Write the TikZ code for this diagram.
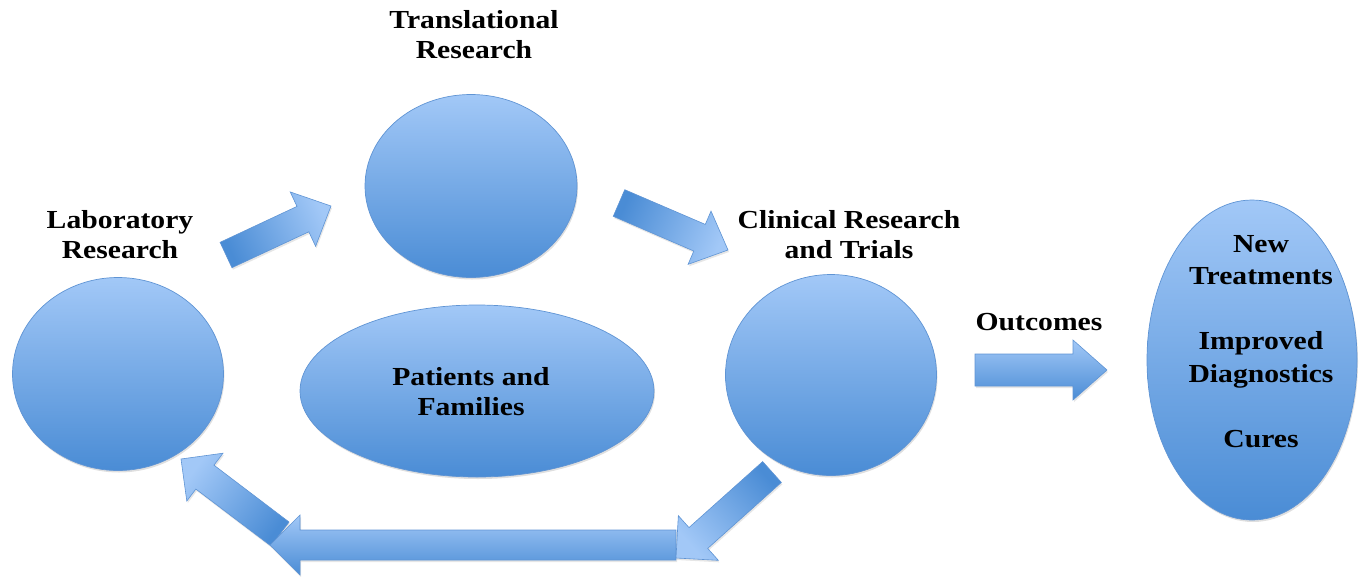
\documentclass[tikz,border=0pt]{standalone}
\usepackage{fontspec}
\setmainfont{Liberation Serif}[FakeStretch=1.14]
\usetikzlibrary{shapes.geometric,calc,shadows}
\definecolor{lightb}{RGB}{162,200,247}
\definecolor{darkb}{RGB}{74,140,213}
\definecolor{edgeb}{RGB}{95,148,212}
\tikzset{
  bubble/.style={ellipse, inner sep=0pt, draw=edgeb, line width=0.7pt,
    top color=lightb, bottom color=darkb,
    drop shadow={opacity=0.25, shadow xshift=1pt, shadow yshift=-2pt}},
  arrowbody/.style={draw=edgeb, line width=0.6pt, top color=lightb, bottom color=darkb,
    drop shadow={opacity=0.2, shadow xshift=1pt, shadow yshift=-2pt}},
  lbl/.style={align=center, inner sep=0pt, anchor=base,
    font=\fontsize{26}{30}\selectfont\bfseries},
}
\newcommand\blockarrow[6]{%
  \coordinate (hb) at ($(#2)!#5!(#1)$);
  \path[arrowbody, shading angle=#6]
    ($(#1)!#3!90:(#2)$) -- ($(hb)!#3!90:(#2)$) -- ($(hb)!#4!90:(#2)$) -- (#2)
    -- ($(hb)!#4!-90:(#2)$) -- ($(hb)!#3!-90:(#2)$) -- ($(#1)!#3!-90:(#2)$) -- cycle;
}
\begin{document}
\begin{tikzpicture}[x=1pt,y=-1pt]
\useasboundingbox (0,0) rectangle (1362,576);
% circles
\node[bubble, minimum width=211pt, minimum height=193pt] (lab) at (118,374) {};
\node[bubble, minimum width=212pt, minimum height=183pt] (trans) at (471,186) {};
\node[bubble, minimum width=211pt, minimum height=201pt] (clin) at (831,375) {};
\node[bubble, minimum width=354pt, minimum height=172pt] (pat) at (477,391) {};
\node[bubble, minimum width=210pt, minimum height=320pt] (out) at (1252,360) {};
% arrow end points
\coordinate (a1s) at (226,255); \coordinate (a1e) at (331,206);
\coordinate (a2s) at (619,203); \coordinate (a2e) at (728,250);
\coordinate (a3s) at (280,534); \coordinate (a3e) at (181,459);
\coordinate (a4s) at (676,545); \coordinate (a4e) at (270,545);
\coordinate (a5s) at (772,472); \coordinate (a5e) at (676,558);
\coordinate (a6s) at (975,370); \coordinate (a6e) at (1107,370);
\blockarrow{a1s}{a1e}{14pt}{30pt}{31pt}{-65}
\blockarrow{a2s}{a2e}{14.5pt}{29pt}{31pt}{-113.6}
\blockarrow{a3s}{a3e}{15pt}{30pt}{30pt}{52.9}
\blockarrow{a4s}{a4e}{15pt}{30pt}{30pt}{0}
\blockarrow{a5s}{a5e}{14pt}{30pt}{30pt}{131.9}
\blockarrow{a6s}{a6e}{16pt}{30pt}{34pt}{0}
% labels (anchor = baseline of last line)
\node[lbl] (tl) at (474,58) {Translational\\Research};
\node[lbl] (ll) at (120,258) {Laboratory\\Research};
\node[lbl] (cl) at (849,258) {Clinical Research\\and Trials};
\node[lbl] (ol) at (1039,330) {Outcomes};
\node[lbl] (pl) at (471,415) {Patients and\\Families};
\node[lbl, font=\fontsize{26}{32.5}\selectfont\bfseries] (rl) at (1261,447)
  {New\\Treatments\\[32.5pt]Improved\\Diagnostics\\[32.5pt]Cures};
\end{tikzpicture}
\end{document}
